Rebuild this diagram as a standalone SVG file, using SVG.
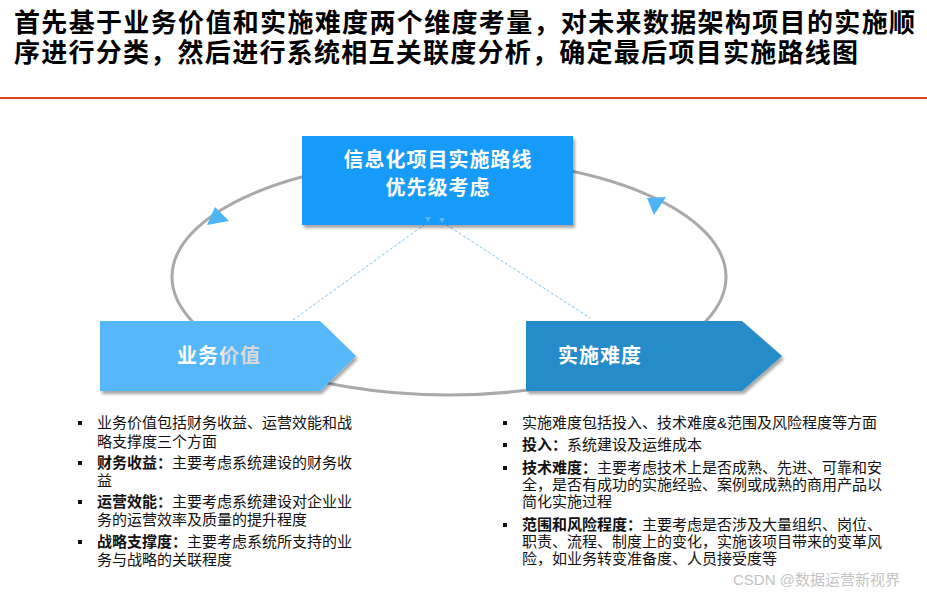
<svg xmlns="http://www.w3.org/2000/svg" width="927" height="594" viewBox="0 0 927 594">
<defs>
<style>
.t{font-family:"Liberation Sans","Noto Sans CJK SC",sans-serif;}
.title{font-size:26px;font-weight:bold;fill:#000;}
.lbl{font-size:20px;font-weight:bold;fill:#fff;letter-spacing:1px;}
.li{font-size:15px;fill:#111;}
.b{font-weight:bold;}
.bullet{fill:#111;}
.wm{font-size:15px;fill:#c4c4c4;}
</style>
<filter id="sh" x="-10%" y="-10%" width="125%" height="130%">
<feDropShadow dx="2" dy="3" stdDeviation="1.5" flood-color="#000" flood-opacity="0.35"/>
</filter>
<linearGradient id="lg" x1="0" y1="0" x2="1" y2="0">
<stop offset="0" stop-color="#ffffff"/>
<stop offset="0.45" stop-color="#ffffff"/>
<stop offset="0.6" stop-color="#d8d8d8"/>
<stop offset="1" stop-color="#d8d8d8"/>
</linearGradient>
</defs>

<g id="title">
<text class="t title" x="14" y="32" textLength="901" lengthAdjust="spacing">首先基于业务价值和实施难度两个维度考量，对未来数据架构项目的实施顺</text>
<text class="t title" x="14" y="62" textLength="844" lengthAdjust="spacing">序进行分类，然后进行系统相互关联度分析，确定最后项目实施路线图</text>
<rect x="0" y="97" width="927" height="2" fill="#e0441c"/>
</g>

<g id="connectors">
<ellipse cx="449" cy="277" rx="277" ry="118" fill="none" stroke="#a9a9a9" stroke-width="3"/>
<polygon points="215,207 229,221 207,225" fill="#4db4f6"/>
<polygon points="647,198 666,197 654,215" fill="#4db4f6"/>
<line x1="293" y1="320" x2="428" y2="222" stroke="#7cc6f4" stroke-width="1" stroke-dasharray="3 2"/>
<line x1="442" y1="222" x2="590" y2="318" stroke="#7cc6f4" stroke-width="1" stroke-dasharray="3 2"/>
</g>

<g id="node-top">
<rect x="302" y="136" width="271" height="89" fill="#129bfa" filter="url(#sh)"/>
<text class="t lbl" x="438" y="167" text-anchor="middle">信息化项目实施路线</text>
<text class="t lbl" x="438" y="195" text-anchor="middle">优先级考虑</text>
<polygon points="425,217 431,217 428,222" fill="#5cb4f2"/>
<polygon points="439,218 445,218 442,223" fill="#5cb4f2"/>
</g>

<g id="node-business">
<polygon points="100,321 320,321 356,356 320,391 100,391" fill="#56b8fa" filter="url(#sh)"/>
<text class="t lbl" x="177" y="363" fill="url(#lg)" style="fill:url(#lg)">业务价值</text>
</g>

<g id="node-difficulty">
<polygon points="526,321 742,321 782,356 742,391 526,391" fill="#278cc9" filter="url(#sh)"/>
<text class="t lbl" x="558" y="363">实施难度</text>
</g>

<g id="list-left">
<rect class="bullet" x="78" y="421" width="4" height="4"/>
<text class="t li" x="97" y="428">业务价值包括财务收益、运营效能和战</text>
<text class="t li" x="97" y="447">略支撑度三个方面</text>
<rect class="bullet" x="78" y="461" width="4" height="4"/>
<text class="t li" x="97" y="468"><tspan class="b">财务收益：</tspan>主要考虑系统建设的财务收</text>
<text class="t li" x="97" y="486">益</text>
<rect class="bullet" x="78" y="500" width="4" height="4"/>
<text class="t li" x="97" y="507"><tspan class="b">运营效能：</tspan>主要考虑系统建设对企业业</text>
<text class="t li" x="97" y="525">务的运营效率及质量的提升程度</text>
<rect class="bullet" x="78" y="540" width="4" height="4"/>
<text class="t li" x="97" y="547"><tspan class="b">战略支撑度：</tspan>主要考虑系统所支持的业</text>
<text class="t li" x="97" y="565">务与战略的关联程度</text>
</g>

<g id="list-right">
<rect class="bullet" x="503" y="421" width="4" height="4"/>
<text class="t li" x="522" y="428">实施难度包括投入、技术难度&amp;范围及风险程度等方面</text>
<rect class="bullet" x="503" y="443" width="4" height="4"/>
<text class="t li" x="522" y="450"><tspan class="b">投入：</tspan>系统建设及运维成本</text>
<rect class="bullet" x="503" y="466" width="4" height="4"/>
<text class="t li" x="522" y="473"><tspan class="b">技术难度：</tspan>主要考虑技术上是否成熟、先进、可靠和安</text>
<text class="t li" x="522" y="490">全，是否有成功的实施经验、案例或成熟的商用产品以</text>
<text class="t li" x="522" y="507">简化实施过程</text>
<rect class="bullet" x="503" y="523" width="4" height="4"/>
<text class="t li" x="522" y="530"><tspan class="b">范围和风险程度：</tspan>主要考虑是否涉及大量组织、岗位、</text>
<text class="t li" x="522" y="547">职责、流程、制度上的变化，实施该项目带来的变革风</text>
<text class="t li" x="522" y="564">险，如业务转变准备度、人员接受度等</text>
</g>

<g id="watermark">
<text class="t wm" x="733" y="585">CSDN @数据运营新视界</text>
</g>
</svg>
